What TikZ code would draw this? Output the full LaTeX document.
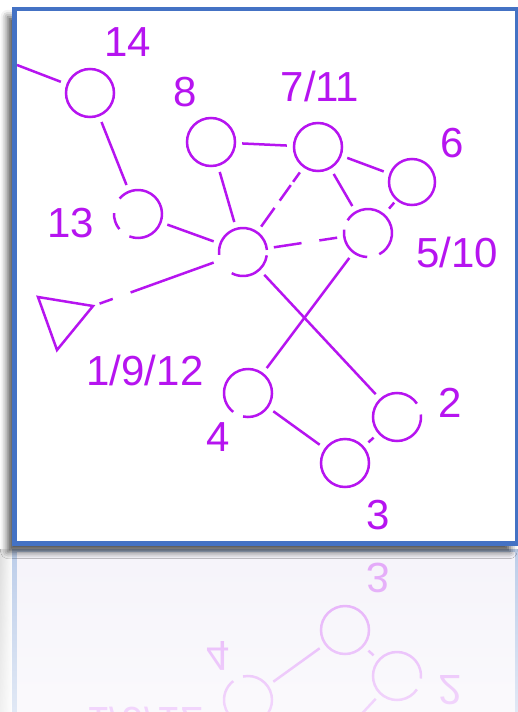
\documentclass[tikz,border=0pt]{standalone}
\usepackage{fontspec}
\setmainfont{Liberation Sans}
\usetikzlibrary{shadows.blur,fadings}
\definecolor{vio}{RGB}{182,20,240}
\definecolor{frameblue}{RGB}{68,114,196}
\definecolor{reflbg}{RGB}{246,244,250}
\tikzfading[name=reflfade, top color=transparent!100, bottom color=transparent!45]
\newcommand\biglabel{\fontsize{42pt}{42pt}\selectfont}
\newcommand\ringarc[4]{\draw[ring] (#1.center) ++(#2:#4) arc[start angle=#2, end angle=#3, radius=#4];}
\newcommand\fullring[2]{\draw[ring] (#1.center) circle[radius=#2];}
\newcommand\graphbody{%
 \node[v] (n14) at (90,-93) {};
 \node[v] (n8) at (211,-142) {};
 \node[v] (n711) at (318,-147) {};
 \node[v, minimum size=46pt] (n6) at (412,-182) {};
 \node[v] (n510) at (368,-233) {};
 \node[v] (n13) at (138,-214) {};
 \node[v] (n1) at (243,-252) {};
 \node[v] (n4) at (248,-393) {};
 \node[v] (n3) at (345,-463) {};
 \node[v] (n2) at (397,-417) {};
 \coordinate (fl) at (17,-65);
 \coordinate (ta) at (38,-297);
 \coordinate (tb) at (93,-306);
 \coordinate (tc) at (57,-350);
 \fullring{n14}{24pt}
 \fullring{n8}{24pt}
 \fullring{n711}{24pt}
 \fullring{n6}{23pt}
 \fullring{n3}{24pt}
 \ringarc{n13}{-111}{140}{24pt}
 \ringarc{n13}{178}{219}{24pt}
 \ringarc{n1}{5}{187}{24pt}
 \ringarc{n1}{-118}{-8}{24pt}
 \ringarc{n510}{-62}{148}{24pt}
 \ringarc{n510}{172}{268}{24pt}
 \ringarc{n4}{-102}{232}{24pt}
 \ringarc{n2}{34}{366}{24pt}
 \draw[ring, line join=miter] (ta) -- (tb) -- (tc) -- cycle;
 \node[lbl] (l14) at (128,-42) {14};
 \node[lbl] (l8) at (185,-92) {8};
 \node[lbl] (l711) at (320,-86) {7/11};
 \node[lbl] (l6) at (452,-143) {6};
 \node[lbl] (l510) at (457,-252) {5/10};
 \node[lbl] (l13) at (71,-223) {13};
 \node[lbl] (l1) at (145,-370) {1/9/12};
 \node[lbl] (l4) at (218,-437) {4};
 \node[lbl] (l3) at (378,-515) {3};
 \node[lbl] (l2) at (450,-403) {2};
 \draw[edge, shorten <=0pt] (fl) -- (n14);
 \draw[edge] (n14) -- (n13);
 \draw[edge] (n8) -- (n711);
 \draw[edge] (n8) -- (n1);
 \draw[edge] (n711) -- (n6);
 \draw[edge] (n711) -- (n510);
 \draw[edge, shorten <=8pt, shorten >=4pt] (n510) -- (n6);
 \draw[edge] (n13) -- (n1);
 \draw[edge, dash pattern=on 23pt off 9pt on 19pt off 4pt on 60pt] (n1) -- (n711);
 \draw[edge, dash pattern=on 28pt off 18pt on 60pt] (n1) -- (n510);
 \draw[edge, dash pattern=on 14pt off 19pt on 300pt] (tb) -- (n1);
 \draw[edge] (n1) -- (n2);
 \draw[edge] (n510) -- (n4);
 \draw[edge] (n4) -- (n3);
 \draw[edge] (n3) -- (n2);
}
% the lower part of the diagram, as seen in the reflection
\newcommand\reflbody{%
 \node[v] (n510) at (368,-233) {};
 \node[v] (n1) at (243,-252) {};
 \node[v] (n4) at (248,-393) {};
 \node[v] (n3) at (345,-463) {};
 \node[v] (n2) at (397,-417) {};
 \fullring{n3}{24pt}
 \ringarc{n4}{-102}{232}{24pt}
 \ringarc{n2}{34}{366}{24pt}
 \node[lbl] (l1) at (145,-370) {1/9/12};
 \node[lbl] (l4) at (218,-437) {4};
 \node[lbl] (l3) at (378,-515) {3};
 \node[lbl] (l2) at (450,-403) {2};
 \draw[edge] (n1) -- (n2);
 \draw[edge] (n510) -- (n4);
 \draw[edge] (n4) -- (n3);
 \draw[edge] (n3) -- (n2);
}
\begin{document}
\begin{tikzpicture}[x=1pt, y=1pt,
  v/.style={circle, inner sep=0pt, minimum size=48pt},
  ring/.style={draw=vio, line width=2.5pt},
  edge/.style={draw=vio, line width=2.5pt, shorten <=7pt, shorten >=7pt},
  lbl/.style={text=vio, font=\biglabel, inner sep=0pt}]
\useasboundingbox (0,0) rectangle (518,-712);
% reflection
\begin{scope}
  \clip (0,-549) rectangle (518,-712);
  \fill[gray!25, path fading=east] (0,-549) rectangle (13,-712);
  \begin{scope}[yshift=-1093pt, yscale=-1, transform shape, name prefix=r-]
    \colorlet{vio}{vio!38}
    \colorlet{frameblue}{frameblue!35}
    \fill[reflbg] (14.7,-300) rectangle (517,-543.5);
    \reflbody
    \draw[frameblue, line width=4.5pt] (14.7,-300) -- (14.7,-543.5) -- (517,-543.5) -- (517,-300);
  \end{scope}
  \fill[white, path fading=reflfade] (0,-549) rectangle (518,-712);
\end{scope}
% main frame
\fill[white, blur shadow={shadow xshift=-7pt, shadow yshift=-8pt, shadow blur radius=7pt, shadow opacity=70}] (14.7,-8.8) rectangle (517,-543.5);
\graphbody
\draw[frameblue, line width=4.5pt] (14.7,-8.8) rectangle (517,-543.5);
\end{tikzpicture}
\end{document}
